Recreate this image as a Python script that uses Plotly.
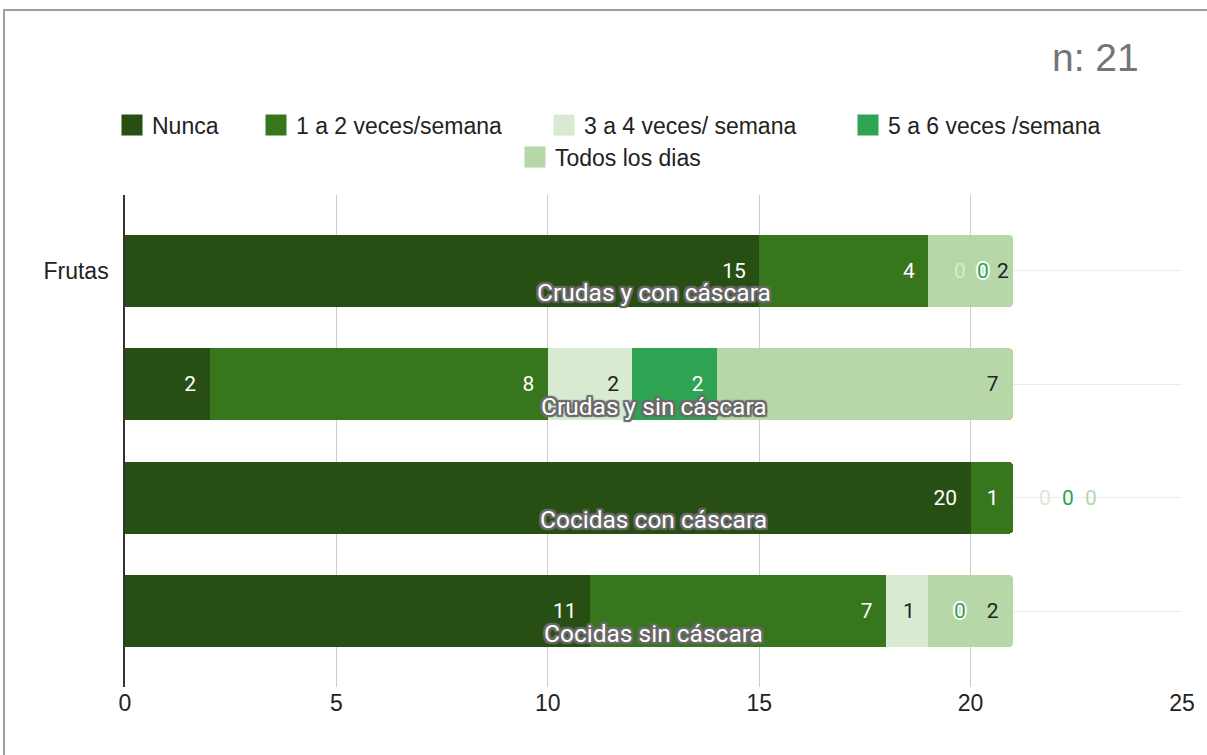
import plotly.graph_objects as go

categories = ["Crudas y con cáscara", "Crudas y sin cáscara", "Cocidas con cáscara", "Cocidas sin cáscara"]
group_label = "Frutas"
series_names = ["Nunca", "1 a 2 veces/semana", "3 a 4 veces/ semana", "5 a 6 veces /semana", "Todos los dias"]
nunca = [15, 2, 20, 11]
una_dos = [4, 8, 1, 7]
tres_cuatro = [0, 2, 0, 1]
cinco_seis = [0, 2, 0, 0]
todos = [2, 7, 0, 2]
x_ticks = [0, 5, 10, 15, 20, 25]
n_label = "n: 21"

series_values = [nunca, una_dos, tres_cuatro, cinco_seis, todos]
colors = ["#274e13", "#38761d", "#d9ead3", "#2ea352", "#b6d7a8"]
text_colors = ["#ffffff", "#ffffff", "#222222", "#ffffff", "#222222"]
ROBOTO = "Roboto, Arial, sans-serif"
ARIAL = "Liberation Sans, Arial, sans-serif"
PAD = "\u00a0\u00a0"


def zeros_before(row, si):
    """count of consecutive zero-valued series directly before series si in a row"""
    n = 0
    j = si - 1
    while j >= 0 and series_values[j][row] == 0:
        n += 1
        j -= 1
    return n


fig = go.Figure()
for si, (name, vals, col, tcol) in enumerate(zip(series_names, series_values, colors, text_colors)):
    labels = []
    for r, v in enumerate(vals):
        if not v:
            labels.append("")
        else:
            labels.append(str(v) + ("" if zeros_before(r, si) >= 2 else PAD))
    fig.add_trace(go.Bar(
        y=categories, x=vals, name=name, orientation="h",
        marker=dict(color=col, line=dict(width=0)),
        text=labels,
        textposition="inside", insidetextanchor="end",
        textfont=dict(color=tcol, size=21, family=ROBOTO),
        constraintext="none", cliponaxis=False,
        hoverinfo="skip", showlegend=False,
    ))

# legend entries (square swatches), one legend box per entry
legend_keys = ["legend", "legend2", "legend3", "legend4", "legend5"]
legend_text_x = [153, 297, 585, 889, 556]   # px where each legend label starts
legend_row_y = [125, 125, 125, 125, 157]    # px row centres
for name, col, key in zip(series_names, colors, legend_keys):
    fig.add_trace(go.Scatter(
        x=[None], y=[None], mode="markers", name=name,
        marker=dict(symbol="square", size=16, color=col, line=dict(color=col, width=5)),
        legend=key, hoverinfo="skip",
    ))

annotations = []
white_halo = ", ".join(f"{dx}px {dy}px 1px #fff" for dx, dy in [(1, 1), (-1, -1), (1, -1), (-1, 1), (2, 0), (-2, 0), (0, 2), (0, -2)])
gray_halo = ", ".join(f"{dx}px {dy}px 1px #6b6b6b" for dx, dy in [(1, 1), (-1, -1), (1, -1), (-1, 1), (2, 0), (-2, 0), (0, 2), (0, -2), (2, 2), (-2, -2), (2, -2), (-2, 2)])
for i, cat in enumerate(categories):
    k_at = {}
    running = 0
    for si, vals in enumerate(series_values):
        if vals[i] == 0:
            k = k_at.get(running, 0)
            k_at[running] = k + 1
            annotations.append(dict(
                x=running, y=cat, xref="x", yref="y", text="0", showarrow=False,
                xanchor="center", xshift=32 + 23 * k,
                font=dict(size=21, family=ROBOTO, color=colors[si],
                          shadow=white_halo if si == 3 else "none"),
            ))
        running += vals[i]
    annotations.append(dict(
        x=0.5, y=cat, xref="paper", yref="y", text=cat, showarrow=False,
        yshift=-22, xanchor="center",
        font=dict(size=24.5, family=ROBOTO, color="#ffffff", shadow=gray_halo),
    ))

annotations.append(dict(
    x=(1141 - 125) / 1057, y=(687 - 57) / 492, xref="paper", yref="paper", text=n_label,
    showarrow=False, xanchor="right", yanchor="middle",
    font=dict(size=39, family=ARIAL, color="#757575"),
))

legend_layout = {}
for key, tx, ty in zip(legend_keys, legend_text_x, legend_row_y):
    legend_layout[key] = dict(
        orientation="h", x=(tx - 41 - 125) / 1057, xanchor="left",
        y=(687 - ty) / 492, yanchor="middle",
        font=dict(size=23, family=ARIAL, color="#222222"),
        itemsizing="trace", bgcolor="rgba(0,0,0,0)", traceorder="normal",
    )

fig.update_layout(
    barmode="stack",
    bargap=0.366,
    barcornerradius=4,
    width=1207, height=755,
    margin=dict(l=125, r=25, t=195, b=68),
    paper_bgcolor="#ffffff", plot_bgcolor="#ffffff",
    font=dict(family=ARIAL, size=23, color="#222222"),
    showlegend=True,
    xaxis=dict(
        range=[0, 25], tickvals=x_ticks, ticktext=[str(t) for t in x_ticks],
        showgrid=True, gridcolor="#cccccc", gridwidth=1, zeroline=False,
        showline=False, ticks="", tickfont=dict(size=23, family=ARIAL, color="#222222"),
    ),
    yaxis=dict(
        categoryorder="array", categoryarray=categories,
        range=[3.67, -0.67],
        tickvals=categories, ticktext=[group_label] + [""] * (len(categories) - 1),
        showgrid=True, gridcolor="#ebebeb", gridwidth=1,
        showline=True, linecolor="#333333", linewidth=1.5,
        ticks="", ticklabelstandoff=10,
        tickfont=dict(size=23, family=ARIAL, color="#222222"),
    ),
    annotations=annotations,
    shapes=[dict(type="rect", xref="paper", yref="paper",
                 x0=(4 - 125) / 1057, x1=(1212 - 125) / 1057,
                 y0=(687 - 760) / 492, y1=(687 - 10) / 492,
                 line=dict(color="#9e9e9e", width=2), layer="below")],
    **legend_layout,
)

fig.write_html("out.html", config={"displayModeBar": False},
               post_script="document.body.style.margin='0px';document.body.style.overflow='hidden';")
